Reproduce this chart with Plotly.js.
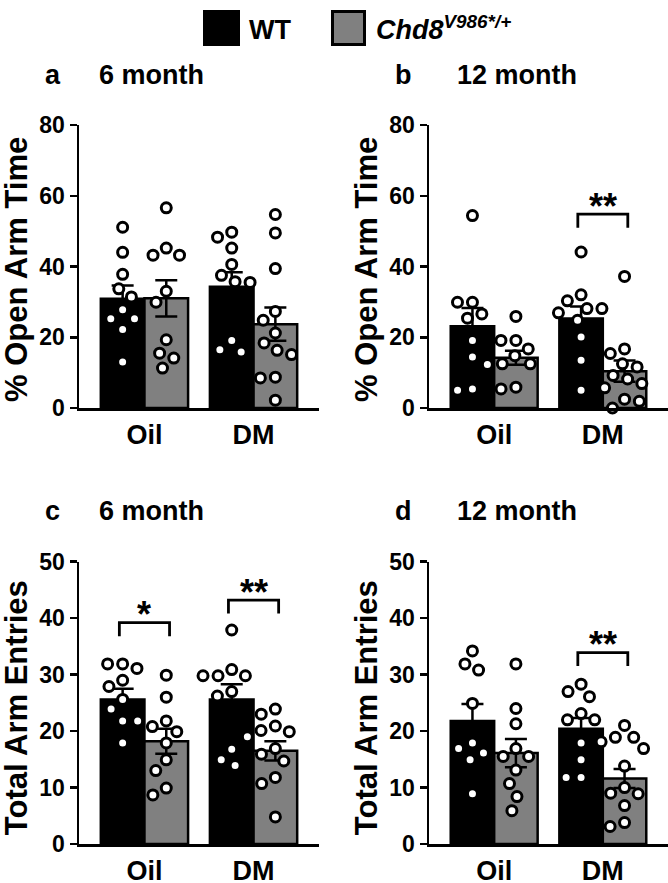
<!DOCTYPE html>
<html>
<head>
<meta charset="utf-8">
<script src="https://cdn.plot.ly/plotly-3.0.1.min.js"></script>
<style>html,body{margin:0;padding:0;background:#fff}#chart{width:668px;height:883px}</style>
</head>
<body>
<div id="chart"></div>
<script>
// ---------- DATA ----------
const groups = ['Oil', 'DM'];
const genotypes = ['WT', 'Chd8<sup>V986*/+</sup>'];
const panelLetters = ['a', 'b', 'c', 'd'];
const panelTitles = ['6 month', '12 month', '6 month', '12 month'];
const yTitles = ['% Open Arm Time', 'Total Arm Entries'];
const yTickRow1 = [0, 20, 40, 60, 80];
const yTickRow2 = [0, 10, 20, 30, 40, 50];

// panel a: 6 month, % open arm time
const aWTOil  = [51.1, 44.0, 37.8, 33.7, 31.4, 27.8, 25.2, 25.2, 22.2, 13.0];
const aMutOil = [56.6, 45.2, 43.2, 43.2, 33.0, 29.9, 19.3, 15.5, 14.1, 11.3];
const aWTDM   = [49.7, 48.3, 45.2, 40.6, 37.5, 35.7, 35.5, 19.1, 16.5, 15.8];
const aMutDM  = [54.7, 49.5, 39.4, 27.3, 24.8, 21.2, 18.4, 16.3, 15.1, 8.7, 8.5, 2.2];
const aWTMean = [30.9, 34.3], aWTSem = [3.7, 4.1];
const aMutMean = [31.0, 23.7], aMutSem = [5.1, 4.7];

// panel b: 12 month, % open arm time
const bWTOil  = [54.4, 29.9, 29.9, 26.6, 25.4, 19.1, 14.4, 5.4, 5.0];
const bMutOil = [25.9, 19.1, 19.1, 16.7, 14.8, 12.5, 12.5, 12.3, 5.9, 5.4];
const bWTDM   = [44.1, 32.0, 30.3, 28.1, 28.1, 26.9, 24.8, 20.1, 13.5, 5.0];
const bMutDM  = [37.2, 16.7, 15.4, 12.5, 11.6, 9.2, 8.2, 6.9, 5.7, 2.5, 1.9, 0.0];
const bWTMean = [23.1, 25.3], bWTSem = [5.2, 3.4];
const bMutMean = [14.2, 10.4], bMutSem = [2.0, 3.0];

// panel c: 6 month, total arm entries
const cWTOil  = [31.9, 31.9, 31.1, 29.0, 27.9, 25.6, 23.9, 21.8, 21.8, 17.9];
const cMutOil = [29.9, 26.0, 21.8, 20.8, 19.9, 17.9, 14.9, 13.0, 9.9, 8.7];
const cWTDM   = [37.9, 30.9, 29.8, 29.8, 29.8, 27.0, 26.2, 16.8, 14.9, 13.9];
const cMutDM  = [23.9, 23.0, 20.9, 20.1, 19.9, 19.0, 16.9, 15.9, 14.7, 11.8, 10.7, 4.8];
const cWTMean = [25.6, 25.6], cWTSem = [1.9, 2.7];
const cMutMean = [18.2, 16.5], cMutSem = [2.2, 1.7];

// panel d: 12 month, total arm entries
const dWTOil  = [34.2, 31.9, 30.8, 24.9, 17.9, 16.9, 16.1, 14.9, 8.9];
const dMutOil = [31.9, 24.0, 21.3, 16.9, 15.5, 15.5, 13.1, 10.7, 8.4, 5.9];
const dWTDM   = [28.3, 27.0, 26.1, 23.1, 22.0, 22.0, 17.9, 14.9, 11.8, 11.8];
const dMutDM  = [21.0, 18.9, 18.9, 18.1, 16.9, 13.8, 10.0, 9.0, 8.9, 6.8, 3.8, 3.1];
const dWTMean = [21.8, 20.4], dWTSem = [3.0, 1.9];
const dMutMean = [16.1, 11.6], dMutSem = [2.5, 1.7];

// significance brackets
const sigPanel = [1, 2, 2, 3];
const sigGroup = [1, 0, 1, 1];
const sigLevel = [54.8, 39.2, 43.2, 33.9];
const sigLabel = ['**', '*', '**', '**'];

// ---------- STYLE / LAYOUT HELPERS ----------
const FONT = 'Liberation Sans, Arial, Helvetica, sans-serif';
const W = 668, H = 883;
const colDom = [[79 / W, 319 / W], [429 / W, 1]];
const rowDom = [[1 - 408 / H, 1 - 125 / H], [1 - 844 / H, 1 - 561.7 / H]];
const yRanges = [[0, 80], [0, 80], [0, 50], [0, 50]];
const xRange = [-0.6, 1.6];
const xPxPerUnit = 109;
const yPxPerUnit = [283 / 80, 283 / 80, 282.3 / 50, 282.3 / 50];

const panels = [
  {pts: [aWTOil, aMutOil, aWTDM, aMutDM], wtM: aWTMean, wtS: aWTSem, mM: aMutMean, mS: aMutSem},
  {pts: [bWTOil, bMutOil, bWTDM, bMutDM], wtM: bWTMean, wtS: bWTSem, mM: bMutMean, mS: bMutSem},
  {pts: [cWTOil, cMutOil, cWTDM, cMutDM], wtM: cWTMean, wtS: cWTSem, mM: cMutMean, mS: cMutSem},
  {pts: [dWTOil, dMutOil, dWTDM, dMutDM], wtM: dWTMean, wtS: dWTSem, mM: dMutMean, mS: dMutSem}
];

// beeswarm layout (pixel space), returns horizontal pixel offsets
function swarm(vals, yPx, D) {
  const placed = [], out = [];
  vals.forEach(v => {
    const y = v * yPx;
    const cands = [0];
    placed.forEach(p => {
      const dy = Math.abs(p.y - y);
      if (dy < D) {
        const dx = Math.sqrt(D * D - dy * dy);
        cands.push(p.x + dx + 0.01, p.x - dx - 0.01);
      }
    });
    cands.sort((a, b) => Math.abs(a) - Math.abs(b) || a - b);
    let xx = 0;
    for (const c of cands) {
      if (placed.every(p => Math.hypot(p.x - c, p.y - y) >= D - 0.001)) { xx = c; break; }
    }
    placed.push({x: xx, y});
    out.push(xx);
  });
  return out;
}

const traces = [];
const layout = {
  width: W, height: H,
  margin: {l: 0, r: 0, t: 0, b: 0},
  paper_bgcolor: '#fff', plot_bgcolor: '#fff',
  showlegend: false,
  barmode: 'overlay',
  font: {family: FONT, color: '#000'},
  annotations: [], shapes: []
};

const off = 0.2;
panels.forEach((p, k) => {
  const sfx = k === 0 ? '' : String(k + 1);
  const xa = 'x' + sfx, ya = 'y' + sfx;
  const col = k % 2, row = Math.floor(k / 2);
  const errStyle = {type: 'data', visible: true, color: '#000', thickness: 2.5, width: 11};
  traces.push({
    type: 'bar', xaxis: xa, yaxis: ya, name: genotypes[0],
    x: groups.map((g, i) => i - off), y: p.wtM, width: 0.4,
    marker: {color: '#000', line: {color: '#000', width: 2.5}},
    error_y: Object.assign({array: p.wtS}, errStyle), hoverinfo: 'skip'
  });
  traces.push({
    type: 'bar', xaxis: xa, yaxis: ya, name: genotypes[1],
    x: groups.map((g, i) => i + off), y: p.mM, width: 0.4,
    marker: {color: '#808080', line: {color: '#000', width: 2.5}},
    error_y: Object.assign({array: p.mS}, errStyle), hoverinfo: 'skip'
  });
  // points: order WT Oil, Mut Oil, WT DM, Mut DM
  p.pts.forEach((vals, j) => {
    const g = Math.floor(j / 2), isMut = j % 2;
    const center = g + (isMut ? off : -off);
    const dx = swarm(vals, yPxPerUnit[k], 15);
    traces.push({
      type: 'scatter', mode: 'markers', xaxis: xa, yaxis: ya,
      x: dx.map(d => center + d / xPxPerUnit), y: vals,
      marker: {size: 10, color: '#fff', line: {color: '#000', width: 3}},
      hoverinfo: 'skip', cliponaxis: false
    });
  });
  const yr = yRanges[k];
  layout['xaxis' + sfx] = {
    domain: colDom[col], anchor: ya, range: xRange,
    showline: true, linecolor: '#000', linewidth: 2.5, mirror: false,
    showgrid: false, zeroline: false,
    tickmode: 'array', tickvals: [0, 1], ticktext: groups.map(g => '<b>' + g + '</b>'),
    ticks: '', ticklabelstandoff: 1,
    tickfont: {family: FONT, size: 27, color: '#000'}, fixedrange: true
  };
  layout['yaxis' + sfx] = {
    domain: rowDom[row], anchor: xa, range: yr,
    showline: true, linecolor: '#000', linewidth: 2.5,
    showgrid: false, zeroline: false,
    tickmode: 'array', tickvals: row === 0 ? yTickRow1 : yTickRow2,
    ticktext: (row === 0 ? yTickRow1 : yTickRow2).map(v => '<b>' + v + '</b>'),
    ticks: 'outside', ticklen: 7, tickwidth: 2.5, tickcolor: '#000',
    tickfont: {family: FONT, size: 23, color: '#000'}, fixedrange: true
  };
  // panel letter + title
  const letterX = col === 0 ? 43 : 393;
  const titleX = col === 0 ? 97 : 455;
  const titleY = row === 0 ? 75 : 511;
  layout.annotations.push({
    xref: 'paper', yref: 'paper', x: letterX / W, y: 1 - titleY / H,
    xanchor: 'left', yanchor: 'middle', showarrow: false,
    text: '<b>' + panelLetters[k] + '</b>', font: {family: FONT, size: 27, color: '#000'}
  });
  layout.annotations.push({
    xref: 'paper', yref: 'paper', x: titleX / W, y: 1 - titleY / H,
    xanchor: 'left', yanchor: 'middle', showarrow: false,
    text: '<b>' + panelTitles[k] + '</b>', font: {family: FONT, size: 27, color: '#000'}
  });
  // y title
  const ytX = col === 0 ? 16 : 366;
  layout.annotations.push({
    xref: 'paper', yref: 'paper', x: ytX / W,
    y: (rowDom[row][0] + rowDom[row][1]) / 2 + (row === 0 ? -0.004 : -0.006),
    xanchor: 'center', yanchor: 'middle', showarrow: false, textangle: -90,
    text: '<b>' + yTitles[row] + '</b>', font: {family: FONT, size: 31, color: '#000'}
  });
});

// significance brackets
sigPanel.forEach((k, i) => {
  const sfx = k === 0 ? '' : String(k + 1);
  const g = sigGroup[i], lv = sigLevel[i];
  const leg = 13.5 / yPxPerUnit[k];
  const x0 = g - 0.23, x1 = g + 0.23;
  layout.shapes.push({
    type: 'path', xref: 'x' + sfx, yref: 'y' + sfx,
    path: `M ${x0},${lv - leg} L ${x0},${lv} L ${x1},${lv} L ${x1},${lv - leg}`,
    line: {color: '#000', width: 2.8}
  });
  layout.annotations.push({
    xref: 'x' + sfx, yref: 'y' + sfx, x: g, y: lv, yshift: 8,
    xanchor: 'center', yanchor: 'middle', showarrow: false,
    text: '<b>' + sigLabel[i] + '</b>', font: {family: FONT, size: 36, color: '#000'}
  });
});

// legend
layout.shapes.push({type: 'rect', xref: 'paper', yref: 'paper',
  x0: 203 / W, x1: 240 / W, y0: 1 - 46 / H, y1: 1 - 10 / H,
  fillcolor: '#000', line: {color: '#000', width: 0}});
layout.shapes.push({type: 'rect', xref: 'paper', yref: 'paper',
  x0: 332.5 / W, x1: 364.5 / W, y0: 1 - 44.5 / H, y1: 1 - 11.5 / H,
  fillcolor: '#808080', line: {color: '#000', width: 3}});
layout.annotations.push({xref: 'paper', yref: 'paper', x: 247 / W, y: 1 - 30 / H,
  xanchor: 'left', yanchor: 'middle', showarrow: false,
  text: '<b>' + genotypes[0] + '</b>', font: {family: FONT, size: 27, color: '#000'}});
layout.annotations.push({xref: 'paper', yref: 'paper', x: 374 / W, y: 1 - 28 / H,
  xanchor: 'left', yanchor: 'middle', showarrow: false,
  text: '<b><i>Chd8</i><sup><i>V986*/+</i></sup></b>', font: {family: FONT, size: 27, color: '#000'}});

Plotly.newPlot('chart', traces, layout, {staticPlot: true, displayModeBar: false});
</script>
</body>
</html>
